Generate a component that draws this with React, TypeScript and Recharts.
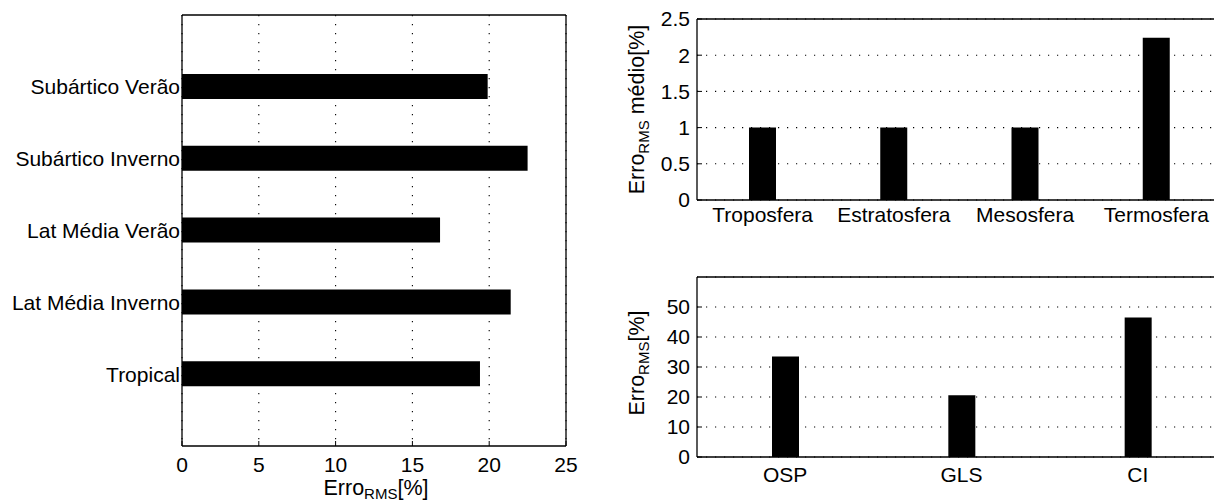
import { BarChart, Bar, XAxis, YAxis, CartesianGrid, Label } from 'recharts';

const FONT = '"Liberation Sans", Arial, Helvetica, sans-serif';
const FS = 21;
const TITLE = 21.5;
const SUB = 15;

// left panel: RMS error per standard atmosphere (top to bottom)
const atmosferas = ['Subártico Verão', 'Subártico Inverno', 'Lat Média Verão', 'Lat Média Inverno', 'Tropical'];
const erroAtmosfera = [19.9, 22.5, 16.8, 21.4, 19.4];
const ticksAtmosfera = [0, 5, 10, 15, 20, 25];

// top right: mean RMS error per layer
const camadas = ['Troposfera', 'Estratosfera', 'Mesosfera', 'Termosfera'];
const erroCamada = [1.0, 1.0, 1.0, 2.24];
const ticksCamada = [0, 0.5, 1, 1.5, 2, 2.5];

// bottom right: RMS error per method
const metodos = ['OSP', 'GLS', 'CI'];
const erroMetodo = [33.5, 20.6, 46.5];
const ticksMetodo = [0, 10, 20, 30, 40, 50];

const atmData = atmosferas.map((name, i) => ({ name, pos: i + 1, value: erroAtmosfera[i] }));
const camData = camadas.map((name, i) => ({ name, pos: i + 1, value: erroCamada[i] }));
const metData = metodos.map((name, i) => ({ name, pos: i + 1, value: erroMetodo[i] }));

const tickStyle = { fontSize: FS, fill: '#000', fontFamily: FONT };
const axisLine = { stroke: '#000', strokeWidth: 1.3 };
const tickLine = { stroke: '#000', strokeWidth: 1 };
const gridProps = { stroke: '#000', strokeDasharray: '1.2 7.8', strokeWidth: 1.1 };

function XTitle(props: any) {
  const vb = props.viewBox || { x: 182, y: 446, width: 384, height: 56 };
  const cx = vb.x + vb.width / 2 + 2;
  const y = vb.y + 49;
  return (
    <text x={cx} y={y} textAnchor="middle" fontFamily={FONT} fontSize={TITLE} fill="#000">
      <tspan>Erro</tspan>
      <tspan fontSize={SUB} dy={4}>RMS</tspan>
      <tspan dy={-4}>[%]</tspan>
    </text>
  );
}

function YTitle({ viewBox, rest, shift }: any) {
  const vb = viewBox || { x: 0, y: 0, width: 97, height: 180 };
  const x = vb.x + 44;
  const cy = vb.y + vb.height / 2 + (shift || 0);
  return (
    <text
      x={x}
      y={cy}
      textAnchor="middle"
      transform={`rotate(-90, ${x}, ${cy})`}
      fontFamily={FONT}
      fontSize={TITLE}
      fill="#000"
    >
      <tspan>Erro</tspan>
      <tspan fontSize={SUB} dy={5}>RMS</tspan>
      <tspan dy={-5}>{rest}</tspan>
    </text>
  );
}

function PainelAtmosfera() {
  return (
    <BarChart
      width={600}
      height={502}
      layout="vertical"
      data={atmData}
      margin={{ top: 14, right: 33, bottom: 0, left: 0 }}
    >
      <CartesianGrid horizontal={false} {...gridProps} />
      <XAxis
        type="number"
        domain={[0, 25]}
        ticks={ticksAtmosfera}
        interval={0}
        allowDataOverflow
        height={56}
        tick={tickStyle}
        tickSize={-5}
        tickMargin={16}
        axisLine={axisLine}
        tickLine={tickLine}
      >
        <Label content={(p: any) => <XTitle {...p} />} />
      </XAxis>
      <XAxis
        xAxisId="top"
        orientation="top"
        type="number"
        domain={[0, 25]}
        ticks={ticksAtmosfera}
        interval={0}
        allowDataOverflow
        height={1}
        tick={false}
        tickSize={-5}
        axisLine={axisLine}
        tickLine={tickLine}
      />
      <YAxis
        type="number"
        dataKey="pos"
        domain={[0, 6]}
        ticks={[1, 2, 3, 4, 5]}
        interval={0}
        allowDataOverflow
        width={182}
        tick={tickStyle}
        tickSize={-5}
        tickMargin={7}
        tickFormatter={(v: number) => atmosferas[v - 1] ?? ''}
        axisLine={axisLine}
        tickLine={tickLine}
      />
      <YAxis
        yAxisId="right"
        orientation="right"
        type="number"
        domain={[0, 6]}
        ticks={[1, 2, 3, 4, 5]}
        interval={0}
        allowDataOverflow
        width={1}
        tick={false}
        tickSize={-5}
        axisLine={axisLine}
        tickLine={tickLine}
      />
      <Bar dataKey="value" fill="#000" barSize={25} isAnimationActive={false} />
    </BarChart>
  );
}

function PainelCamadas() {
  return (
    <BarChart width={640} height={250} data={camData} margin={{ top: 18, right: 18, bottom: 0, left: 0 }}>
      <CartesianGrid vertical={false} {...gridProps} />
      <XAxis
        type="number"
        dataKey="pos"
        domain={[0.5, 4.5]}
        ticks={[1, 2, 3, 4]}
        interval={0}
        allowDataOverflow
        height={50}
        tick={tickStyle}
        tickSize={-5}
        tickMargin={12}
        tickFormatter={(v: number) => camadas[v - 1] ?? ''}
        axisLine={axisLine}
        tickLine={tickLine}
      />
      <XAxis
        xAxisId="top"
        orientation="top"
        type="number"
        domain={[0.5, 4.5]}
        ticks={[1, 2, 3, 4]}
        interval={0}
        allowDataOverflow
        height={1}
        tick={false}
        tickSize={-5}
        axisLine={axisLine}
        tickLine={tickLine}
      />
      <YAxis
        type="number"
        domain={[0, 2.5]}
        ticks={ticksCamada}
        interval={0}
        allowDataOverflow
        width={97}
        tick={tickStyle}
        tickSize={-5}
        tickMargin={12}
        axisLine={axisLine}
        tickLine={tickLine}
      >
        <Label content={(p: any) => <YTitle {...p} rest=" médio[%]" shift={0} />} />
      </YAxis>
      <Bar dataKey="value" fill="#000" barSize={27} isAnimationActive={false} />
    </BarChart>
  );
}

function PainelMetodos() {
  return (
    <BarChart width={640} height={252} data={metData} margin={{ top: 26, right: 14, bottom: 0, left: 0 }}>
      <CartesianGrid vertical={false} {...gridProps} />
      <XAxis
        type="number"
        dataKey="pos"
        domain={[0.5, 3.5]}
        ticks={[1, 2, 3]}
        interval={0}
        allowDataOverflow
        height={45}
        tick={tickStyle}
        tickSize={-5}
        tickMargin={15}
        tickFormatter={(v: number) => metodos[v - 1] ?? ''}
        axisLine={axisLine}
        tickLine={tickLine}
      />
      <XAxis
        xAxisId="top"
        orientation="top"
        type="number"
        domain={[0.5, 3.5]}
        ticks={[1, 2, 3]}
        interval={0}
        allowDataOverflow
        height={1}
        tick={false}
        tickSize={-5}
        axisLine={axisLine}
        tickLine={tickLine}
      />
      <YAxis
        type="number"
        domain={[0, 60]}
        ticks={ticksMetodo}
        interval={0}
        allowDataOverflow
        width={97}
        tick={tickStyle}
        tickSize={-5}
        tickMargin={12}
        axisLine={axisLine}
        tickLine={tickLine}
      >
        <Label content={(p: any) => <YTitle {...p} rest="[%]" shift={-4} />} />
      </YAxis>
      <Bar dataKey="value" fill="#000" barSize={27} isAnimationActive={false} />
    </BarChart>
  );
}

export default function App() {
  return (
    <div
      style={{
        position: 'absolute',
        left: 0,
        top: 0,
        width: 1214,
        height: 502,
        overflow: 'hidden',
        background: '#fff',
        fontFamily: FONT,
      }}
    >
      <div style={{ position: 'absolute', left: 0, top: 0 }}>
        <PainelAtmosfera />
      </div>
      <div style={{ position: 'absolute', left: 600, top: 0 }}>
        <PainelCamadas />
      </div>
      <div style={{ position: 'absolute', left: 600, top: 250 }}>
        <PainelMetodos />
      </div>
    </div>
  );
}
